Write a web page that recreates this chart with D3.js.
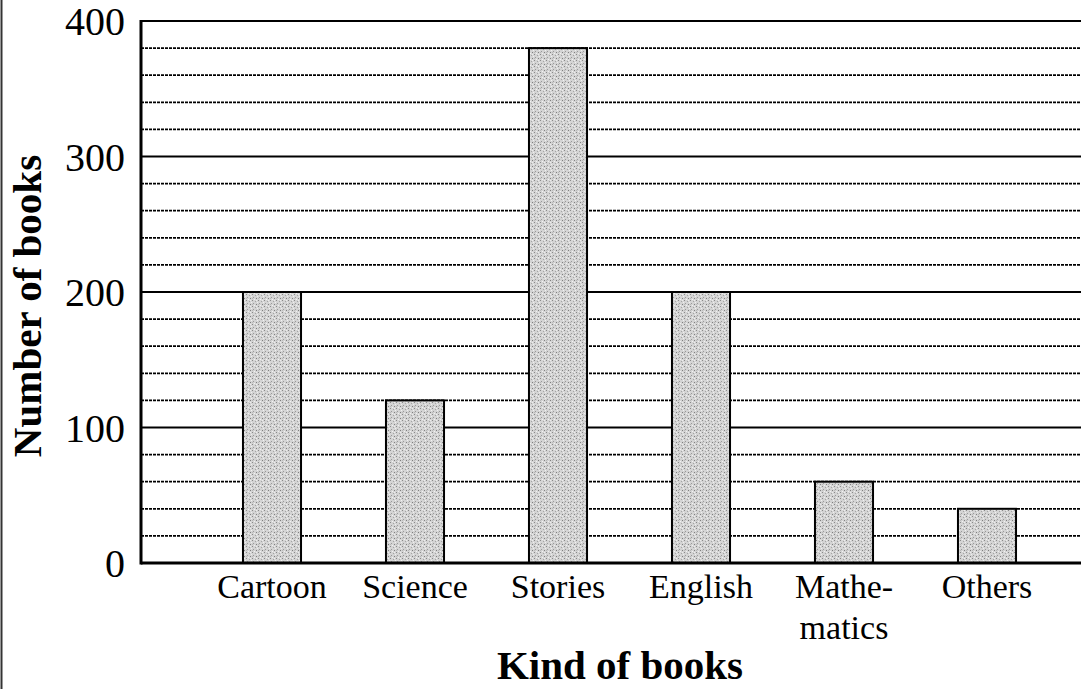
<!DOCTYPE html>
<head>
	<meta charset="utf-8">
	<title>Kind of books</title>
	<style>
	body { margin: 0; background: #fff; }
	.tick-label { font: 40px "Liberation Serif", "Times New Roman", serif; fill: #000; }
	.cat-label { font: 34px "Liberation Serif", "Times New Roman", serif; fill: #000; }
	.axis-title { font: bold 41px "Liberation Serif", "Times New Roman", serif; fill: #000; }
	</style>
</head>
<body>
<script src="https://d3js.org/d3.v7.min.js"></script>
<script>

var width = 1081, height = 689

// data
var categories = ["Cartoon", "Science", "Stories", "English", "Mathe-\nmatics", "Others"];
var books = [200, 120, 380, 200, 60, 40];
var majorTicks = [0, 100, 200, 300, 400];
var minorTicks = [20, 40, 60, 80, 120, 140, 160, 180, 220, 240, 260, 280, 320, 340, 360, 380];

var plotLeft = 141, plotRight = 1081, plotTop = 21, plotBottom = 563;

var svg = d3.select("body")
	.append("svg")
	.attr("width", width)
	.attr("height", height);

// stipple pattern for bars
var defs = svg.append("defs");
var pat = defs.append("pattern")
	.attr("id", "stipple")
	.attr("width", 6).attr("height", 6)
	.attr("patternUnits", "userSpaceOnUse");
pat.append("rect").attr("width", 6).attr("height", 6).attr("fill", "#d4d4d4");
[[0,0,"#8a8a8a"],[3,1,"#a5a5a5"],[1,3,"#9a9a9a"],[4,4,"#808080"],[5,2,"#f0f0f0"],[2,5,"#f2f2f2"],[0,4,"#b8b8b8"],[4,0,"#eeeeee"]]
	.forEach(function(p) {
		pat.append("rect").attr("x", p[0]).attr("y", p[1]).attr("width", 1).attr("height", 1).attr("fill", p[2]);
	});

var y = d3.scaleLinear().domain([0, 400]).range([plotBottom, plotTop]);
var x = d3.scaleBand().domain(categories).range([200.5, 1058.5])
	.paddingInner(0.594).paddingOuter(0.297);

// left page border
svg.append("line")
	.attr("x1", 1.5).attr("x2", 1.5).attr("y1", 0).attr("y2", height)
	.attr("stroke", "#333").attr("stroke-width", 2);

// minor grid
svg.selectAll(".minor")
	.data(minorTicks)
	.enter().append("line")
	.attr("class", "minor")
	.attr("x1", plotLeft).attr("x2", plotRight)
	.attr("y1", function(d) { return y(d); })
	.attr("y2", function(d) { return y(d); })
	.attr("stroke", "#000")
	.attr("stroke-width", 1.8)
	.attr("stroke-dasharray", "3,1");

// major grid
svg.selectAll(".major")
	.data(majorTicks.filter(function(d) { return d > 0; }))
	.enter().append("line")
	.attr("class", "major")
	.attr("x1", plotLeft).attr("x2", plotRight)
	.attr("y1", function(d) { return y(d); })
	.attr("y2", function(d) { return y(d); })
	.attr("stroke", "#000")
	.attr("stroke-width", 2);

// bars
svg.selectAll(".bar")
	.data(books)
	.enter().append("rect")
	.attr("class", "bar")
	.attr("x", function(d, i) { return x(categories[i]); })
	.attr("y", function(d) { return y(d); })
	.attr("width", x.bandwidth())
	.attr("height", function(d) { return y(0) - y(d); })
	.attr("fill", "url(#stipple)")
	.attr("stroke", "#000")
	.attr("stroke-width", 2);

// axes lines
svg.append("line")
	.attr("x1", plotLeft).attr("x2", plotLeft).attr("y1", y(400) - 1).attr("y2", y(0) + 1.5)
	.attr("stroke", "#000").attr("stroke-width", 3);
svg.append("line")
	.attr("x1", plotLeft).attr("x2", plotRight).attr("y1", y(0)).attr("y2", y(0))
	.attr("stroke", "#000").attr("stroke-width", 3);

// y tick labels
svg.selectAll(".tick-label")
	.data(majorTicks)
	.enter().append("text")
	.attr("class", "tick-label")
	.attr("x", 125)
	.attr("y", function(d) { return y(d) + 14; })
	.attr("text-anchor", "end")
	.text(function(d) { return d; });

// category labels
var cat = svg.selectAll(".cat-label")
	.data(categories)
	.enter().append("text")
	.attr("class", "cat-label")
	.attr("text-anchor", "middle")
	.attr("y", 598);
cat.selectAll("tspan")
	.data(function(d) { return d.split("\n").map(function(s) { return { s: s, c: d }; }); })
	.enter().append("tspan")
	.attr("x", function(d) { return x(d.c) + x.bandwidth() / 2; })
	.attr("dy", function(d, i) { return i ? 41 : 0; })
	.text(function(d) { return d.s; });

// axis titles
svg.append("text")
	.attr("class", "axis-title")
	.attr("x", 620).attr("y", 679)
	.attr("text-anchor", "middle")
	.text("Kind of books");

svg.append("text")
	.attr("class", "axis-title")
	.attr("transform", "translate(41," + 306 + ") rotate(-90)")
	.attr("text-anchor", "middle")
	.text("Number of books");

</script>
